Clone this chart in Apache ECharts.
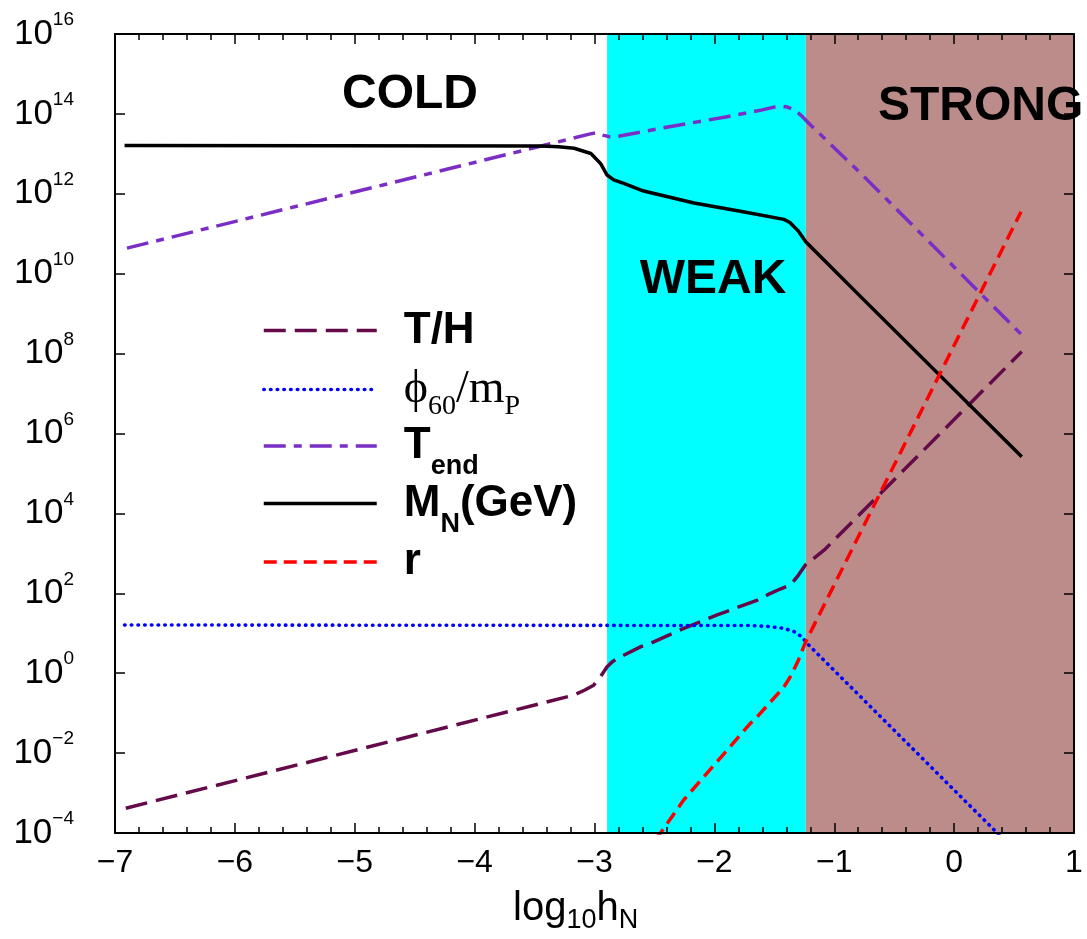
<!DOCTYPE html>
<html><head><meta charset="utf-8">
<script src="https://cdn.jsdelivr.net/npm/echarts@6/dist/echarts.min.js"></script>
<style>html,body{margin:0;padding:0;background:#fff}#c{width:1087px;height:939px}</style>
</head><body><div id="c"></div>
<script>
// ---- data ----
const xTicks = [-7, -6, -5, -4, -3, -2, -1, 0, 1];
const yTickValues = [1e-4, 1e-2, 1, 1e2, 1e4, 1e6, 1e8, 1e10, 1e12, 1e14, 1e16];
const weakRegion = [-2.895, -1.238];
const strongRegion = [-1.238, 1];
const regionLabels = ['COLD', 'WEAK', 'STRONG'];

const TH_x = [-6.91, -3.174, -3.08, -3.007, -2.95, -2.895, -2.85, -2.81, -2.617, -2.533, -2.255, -1.976, -1.64, -1.531, -1.45, -1.364, -1.30, -1.238, -1.16, -1.085, 0.564];
const TH_y = [4.17e-4, 0.282, 0.38, 0.501, 0.813, 1.45, 1.95, 2.34, 4.57, 5.62, 13.2, 28.8, 67.6, 100, 128, 162, 282, 525, 794, 1202, 1.12e8];

const PHI_x = [-6.92, -1.7, -1.55, -1.42, -1.336, -1.266, -1.238, 0.564];
const PHI_y = [16.1, 15.6, 14.8, 13.2, 11.0, 7.94, 6.03, 2.45e-5];

const TEND_x = [-6.9, -3.034, -2.98, -2.93, -2.88, -2.8, -2.45, -1.892, -1.6, -1.503, -1.44, -1.39, -1.33, -1.28, -1.2, -0.778, 0.564];
const TEND_y = [4.37e10, 3.16e13, 3.39e13, 2.95e13, 2.69e13, 2.75e13, 4.37e13, 8.51e13, 1.26e14, 1.48e14, 1.55e14, 1.48e14, 1.26e14, 9.33e13, 5.37e13, 3.24e12, 2.95e8];

const MN_x = [-6.92, -3.45, -3.3, -3.17, -3.03, -2.95, -2.895, -2.84, -2.756, -2.59, -2.17, -1.76, -1.42, -1.37, -1.3, -1.238, -0.778, 0.564];
const MN_y = [1.62e13, 1.58e13, 1.51e13, 1.38e13, 1.02e13, 5.75e12, 2.95e12, 2.24e12, 1.82e12, 1.17e12, 5.89e11, 3.55e11, 2.29e11, 1.91e11, 1.17e11, 6.31e10, 2.63e9, 2.63e5];

const R_x = [-2.6, -2.449, -2.255, -1.976, -1.698, -1.642, -1.419, -1.36, -1.30, -1.238, -0.862, 0.558];
const R_y = [2.82e-5, 1e-4, 6.76e-4, 6.17e-3, 0.0562, 0.0813, 0.457, 0.871, 2.09, 6.17, 1096, 3.55e11];

const seriesNames = ['T/H', 'φ60/mP', 'Tend', 'MN(GeV)', 'r'];

// ---- build ----
const zip = (xs, ys) => xs.map((x, i) => [x, ys[i]]);
const minus = s => String(s).replace('-', '\u2212');

const SANS = 'Liberation Sans, Arial, Helvetica, sans-serif';
const SERIF = 'Liberation Serif, Times New Roman, serif';

const styles = {
  'T/H':     { color: '#650a48', type: [22, 9], width: 3.5 },
  'φ60/mP':  { color: '#0000ff', type: [0.5, 6.2], cap: 'round', width: 3.6 },
  'Tend':    { color: '#7a2ec6', type: [22, 8, 8, 8], width: 3.5 },
  'MN(GeV)': { color: '#000000', type: 'solid', width: 3.5 },
  'r':       { color: '#ff0000', type: [13, 7], width: 3.5 }
};
const dataSets = {
  'T/H': zip(TH_x, TH_y), 'φ60/mP': zip(PHI_x, PHI_y), 'Tend': zip(TEND_x, TEND_y),
  'MN(GeV)': zip(MN_x, MN_y), 'r': zip(R_x, R_y)
};

const lineSeries = seriesNames.map(n => ({
  name: n, type: 'line', data: dataSets[n], showSymbol: false, symbol: 'none',
  smooth: false, z: 3, clip: true,
  lineStyle: { color: styles[n].color, width: styles[n].width, type: styles[n].type, cap: styles[n].cap || 'butt', join: 'round' },
  itemStyle: { color: styles[n].color }
}));

const legendFormat = {
  'T/H': '{b|T/H}',
  'φ60/mP': '{p|\u03D5}{ps|60}{p|/m}{ps|P}',
  'Tend': '{b|T}{bs|end}',
  'MN(GeV)': '{b|M}{bs|N}{b|(GeV)}',
  'r': '{b|r}'
};
const legendCenters = [330, 388, 445.5, 503, 561.5];
const legendRich = {
  b: { fontFamily: SANS, fontWeight: 'bold', fontSize: 44, lineHeight: 70, color: '#000' },
  bs: { fontFamily: SANS, fontWeight: 'bold', fontSize: 27, lineHeight: 28, height: 28, verticalAlign: 'bottom', color: '#000' },
  p: { fontFamily: SERIF, fontSize: 46, lineHeight: 70, color: '#000' },
  ps: { fontFamily: SERIF, fontSize: 28, lineHeight: 36, height: 36, verticalAlign: 'bottom', color: '#000' }
};
const legends = seriesNames.map((n, i) => ({
  data: [n], orient: 'vertical', left: 262, top: legendCenters[i] - 21.5, padding: 0,
  itemWidth: 113, itemHeight: 14, selectedMode: false,
  itemStyle: { opacity: 0, borderWidth: 0 },
  lineStyle: { width: styles[n].width, type: styles[n].type, cap: styles[n].cap || 'butt', color: styles[n].color },
  formatter: name => legendFormat[name],
  textStyle: { color: '#000', padding: [0, 0, 0, 22], rich: legendRich }
}));

const axisCommonX = {
  type: 'value', min: -7, max: 1, interval: 1, z: 10,
  axisLine: { show: true, onZero: false, lineStyle: { color: '#000', width: 2 } },
  axisTick: { show: true, inside: true, length: 10, lineStyle: { color: '#000', width: 1.5 } },
  minorTick: { show: true, splitNumber: 5, length: 6, lineStyle: { color: '#000', width: 1.5 } },
  splitLine: { show: false }, minorSplitLine: { show: false }
};
const axisCommonY = {
  type: 'log', logBase: 10, min: 1e-4, max: 1e16, z: 10,
  axisLine: { show: true, onZero: false, lineStyle: { color: '#000', width: 2 } },
  axisTick: { show: true, inside: true, length: 10, customValues: yTickValues, lineStyle: { color: '#000', width: 1.5 } },
  splitLine: { show: false }, minorTick: { show: false }
};

const option = {
  animation: false,
  backgroundColor: '#fff',
  grid: { left: 115, right: 13, top: 34, bottom: 106, containLabel: false },
  legend: legends,
  xAxis: [
    Object.assign({}, axisCommonX, {
      position: 'bottom',
      axisLabel: { show: true, margin: 14, fontFamily: SANS, fontSize: 32, color: '#000', lineHeight: 32,
        customValues: xTicks, formatter: v => minus(v) }
    }),
    Object.assign({}, axisCommonX, { position: 'top', axisLabel: { show: false } })
  ],
  yAxis: [
    Object.assign({}, axisCommonY, {
      position: 'left',
      axisLabel: { show: true, margin: 41, customValues: yTickValues,
        formatter: v => '{b|10}{s|' + minus(Math.round(Math.log10(v))) + '}',
        rich: {
          b: { fontFamily: SANS, fontSize: 35, lineHeight: 40, color: '#000' },
          s: { fontFamily: SANS, fontSize: 19, lineHeight: 12, height: 12, verticalAlign: 'top', color: '#000' }
        } }
    }),
    Object.assign({}, axisCommonY, { position: 'right', axisLabel: { show: false } })
  ],
  series: [
    {
      name: 'regions', type: 'line', data: [], z: 1, silent: true,
      markArea: {
        silent: true,
        data: [
          [{ xAxis: weakRegion[0], itemStyle: { color: '#00ffff', opacity: 1 } }, { xAxis: weakRegion[1] }],
          [{ xAxis: strongRegion[0], itemStyle: { color: '#bc8c8a', opacity: 1 } }, { xAxis: strongRegion[1] }]
        ]
      }
    }
  ].concat(lineSeries),
  graphic: [
    { type: 'text', x: 410, y: 95, z: 20, style: { text: regionLabels[0], font: 'bold 48px ' + SANS, fill: '#000', align: 'center', verticalAlign: 'middle' } },
    { type: 'text', x: 713, y: 280, z: 20, style: { text: regionLabels[1], font: 'bold 48px ' + SANS, fill: '#000', align: 'center', verticalAlign: 'middle' } },
    { type: 'text', x: 878, y: 107, z: 20, style: { text: regionLabels[2], font: 'bold 48px ' + SANS, fill: '#000', align: 'left', verticalAlign: 'middle' } },
    { type: 'text', x: 513, y: 909, z: 20, style: {
        text: '{m|log}{s|10}{m|h}{s|N}', align: 'left', verticalAlign: 'middle',
        rich: {
          m: { fontFamily: SANS, fontSize: 40, lineHeight: 60, fill: '#000' },
          s: { fontFamily: SANS, fontSize: 27, lineHeight: 36, height: 36, verticalAlign: 'bottom', fill: '#000' }
        } } }
  ]
};

const chart = echarts.init(document.getElementById('c'), null, { renderer: 'canvas' });
chart.setOption(option);
</script>
</body></html>
